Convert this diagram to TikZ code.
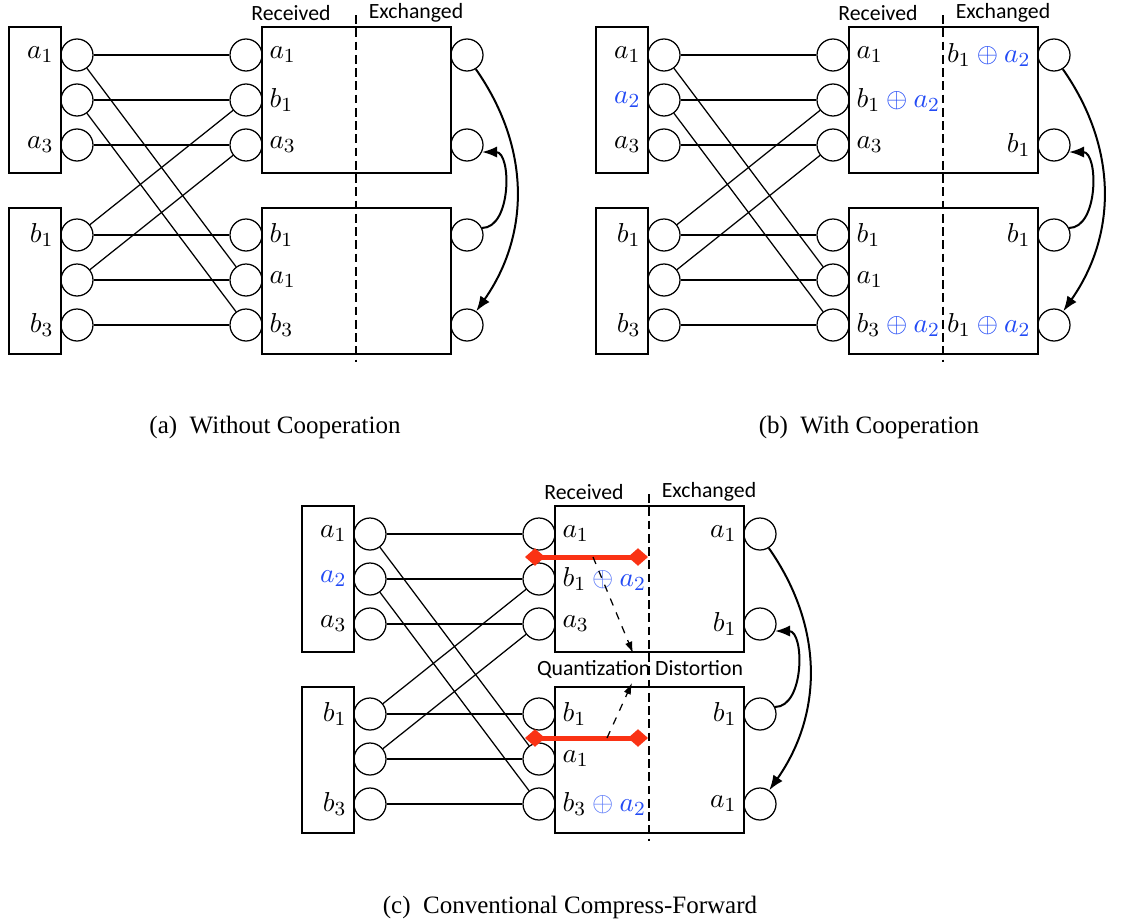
\documentclass[tikz,border=0pt]{standalone}
\usepackage{fontspec}
\usepackage{tikz}
\usetikzlibrary{arrows.meta, positioning}
\newfontfamily\headfont{Carlito}
\newfontfamily\capfont{Liberation Serif}
\definecolor{color_xor}{RGB}{35,75,245}
\definecolor{color_dist}{RGB}{250,50,20}
\newcommand{\plusa}[1][color_xor]{\mathbin{\textcolor{#1}{\oplus}}\textcolor{color_xor}{a_2}}

\begin{document}
\begin{tikzpicture}[x=0.4pt, y=0.4pt, line width=0.5pt,
  port/.style={circle, draw, minimum size=12.8pt, inner sep=0pt},
  srcbox/.style={rectangle, draw, minimum width=20.8pt, minimum height=58.4pt, inner sep=0pt},
  relbox/.style={rectangle, draw, minimum width=75.6pt, minimum height=58.4pt, inner sep=0pt},
  symlbl/.style={inner sep=0.5pt, font=\fontsize{11}{13}\selectfont},
  head/.style={inner sep=0pt, font=\headfont\fontsize{8.7}{10}\selectfont},
  subcap/.style={inner sep=0pt, font=\capfont\fontsize{10}{12}\selectfont},
  xchg/.style={thick, -{Latex[length=6pt,width=4.5pt]}},
  divider/.style={dash pattern=on 3.5pt off 1.8pt},
  distline/.style={color_dist, line width=2pt,
    {Diamond[length=8pt,width=7pt,line width=0pt]}-{Diamond[length=8pt,width=7pt,line width=0pt]}},
  qarrow/.style={dashed, -{Latex[length=4.5pt,width=3pt]}}]

  \useasboundingbox (0,0) rectangle (1140,-920);

  % common skeleton of the three panels
  \foreach \p/\dx/\dy in {a/0/0, b/587/0, c/293/-479} {
    \begin{scope}[shift={(\dx,\dy)}]
      % sources and relays
      \node[srcbox] (\p-sa) at (35,-100) {};
      \node[srcbox] (\p-sb) at (35,-281) {};
      \node[relbox] (\p-ra) at (356.5,-100) {};
      \node[relbox] (\p-rb) at (356.5,-281) {};
      \node[head] (\p-hr) at (291,-13) {Received};
      \node[head] (\p-hx) at (416,-13) {Exchanged};
      \draw[divider] (356,-15) -- (356,-362);
      % ports
      \foreach \i/\y in {1/55,2/100,3/145,4/235,5/280,6/325} {
        \node[port] (\p-l\i) at (77,-\y) {};
        \node[port] (\p-m\i) at (246,-\y) {};
      }
      \foreach \i/\y in {1/55,2/145,3/235,4/325}
        \node[port] (\p-r\i) at (467,-\y) {};
      % links
      \foreach \s/\t in {1/1,2/2,3/3,4/4,5/5,6/6,1/5,2/6,4/2,5/3}
        \draw (\p-l\s) -- (\p-m\t);
      % exchange between relays
      \draw[xchg] (\p-r1.-58) to[out=-55,in=55] (\p-r4.56);
      \draw[xchg] (\p-r3.25) to[out=0,in=0] (\p-r2.-25);
    \end{scope}
  }

  % (a) WITHOUT COOPERATION
  \node[symlbl, left=2pt of a-l1] (a-tl1) {$a_1$};
  \node[symlbl, left=2pt of a-l3] (a-tl3) {$a_3$};
  \node[symlbl, left=2pt of a-l4] (a-tl4) {$b_1$};
  \node[symlbl, left=2pt of a-l6] (a-tl6) {$b_3$};
  \node[symlbl, right=2pt of a-m1] (a-tm1) {$a_1$};
  \node[symlbl, right=2pt of a-m2] (a-tm2) {$b_1$};
  \node[symlbl, right=2pt of a-m3] (a-tm3) {$a_3$};
  \node[symlbl, right=2pt of a-m4] (a-tm4) {$b_1$};
  \node[symlbl, right=2pt of a-m5] (a-tm5) {$a_1$};
  \node[symlbl, right=2pt of a-m6] (a-tm6) {$b_3$};
  \node[subcap] (a-cap) at (275,-427) {(a)\enspace Without Cooperation};

  % (b) WITH COOPERATION
  \node[symlbl, left=2pt of b-l1] (b-tl1) {$a_1$};
  \node[symlbl, left=2pt of b-l2] (b-tl2) {$\textcolor{color_xor}{a_2}$};
  \node[symlbl, left=2pt of b-l3] (b-tl3) {$a_3$};
  \node[symlbl, left=2pt of b-l4] (b-tl4) {$b_1$};
  \node[symlbl, left=2pt of b-l6] (b-tl6) {$b_3$};
  \node[symlbl, right=2pt of b-m1] (b-tm1) {$a_1$};
  \node[symlbl, right=2pt of b-m2] (b-tm2) {$b_1\plusa$};
  \node[symlbl, right=2pt of b-m3] (b-tm3) {$a_3$};
  \node[symlbl, right=2pt of b-m4] (b-tm4) {$b_1$};
  \node[symlbl, right=2pt of b-m5] (b-tm5) {$a_1$};
  \node[symlbl, right=2pt of b-m6] (b-tm6) {$b_3\plusa$};
  \node[symlbl, left=2pt of b-r1] (b-tr1) {$b_1\plusa$};
  \node[symlbl, left=2pt of b-r2] (b-tr2) {$b_1$};
  \node[symlbl, left=2pt of b-r3] (b-tr3) {$b_1$};
  \node[symlbl, left=2pt of b-r4] (b-tr4) {$b_1\plusa$};
  \node[subcap] (b-cap) at (869,-427) {(b)\enspace With Cooperation};

  % (c) CONVENTIONAL COMPRESS-FORWARD
  \node[symlbl, left=2pt of c-l1] (c-tl1) {$a_1$};
  \node[symlbl, left=2pt of c-l2] (c-tl2) {$\textcolor{color_xor}{a_2}$};
  \node[symlbl, left=2pt of c-l3] (c-tl3) {$a_3$};
  \node[symlbl, left=2pt of c-l4] (c-tl4) {$b_1$};
  \node[symlbl, left=2pt of c-l6] (c-tl6) {$b_3$};
  \node[symlbl, right=2pt of c-m1] (c-tm1) {$a_1$};
  \node[symlbl, right=2pt of c-m2] (c-tm2) {$b_1\plusa[color_xor!75]$};
  \node[symlbl, right=2pt of c-m3] (c-tm3) {$a_3$};
  \node[symlbl, right=2pt of c-m4] (c-tm4) {$b_1$};
  \node[symlbl, right=2pt of c-m5] (c-tm5) {$a_1$};
  \node[symlbl, right=2pt of c-m6] (c-tm6) {$b_3\plusa[color_xor!75]$};
  \node[symlbl, left=2pt of c-r1] (c-tr1) {$a_1$};
  \node[symlbl, left=2pt of c-r2] (c-tr2) {$b_1$};
  \node[symlbl, left=2pt of c-r3] (c-tr3) {$b_1$};
  \node[symlbl, left=2pt of c-r4] (c-tr4) {$a_1$};
  \begin{scope}[shift={(293,-479)}]
    \coordinate (c-d1a) at (232,-78);
    \coordinate (c-d1b) at (355,-78);
    \coordinate (c-d2a) at (232,-259);
    \coordinate (c-d2b) at (355,-259);
    \coordinate (c-s1) at (300,-78);
    \coordinate (c-s2) at (314,-259);
    \coordinate (c-q1) at (340,-174);
    \coordinate (c-q2) at (339,-204);
    \node[head] (c-hq) at (347,-190) {Quantization Distortion};
    \draw[distline] (c-d1a) -- (c-d1b);
    \draw[distline] (c-d2a) -- (c-d2b);
    \draw[qarrow] (c-s1) -- (c-q1);
    \draw[qarrow] (c-s2) -- (c-q2);
  \end{scope}
  \node[subcap] (c-cap) at (570,-907) {(c)\enspace Conventional Compress-Forward};

\end{tikzpicture}
\end{document}
